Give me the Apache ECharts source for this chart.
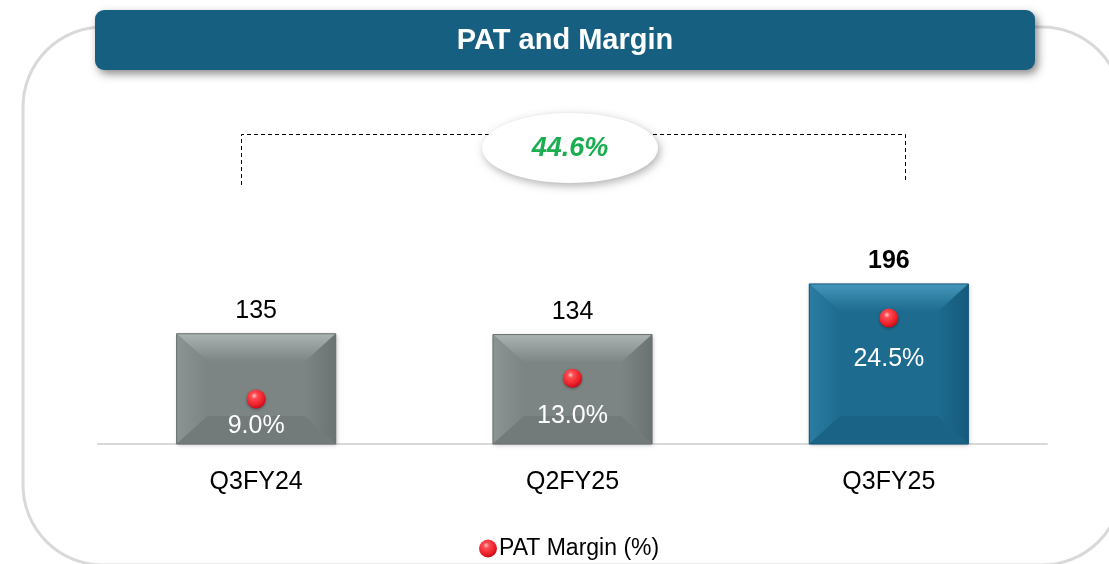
<!DOCTYPE html>
<html>
<head>
<meta charset="utf-8">
<script src="https://cdn.jsdelivr.net/npm/echarts@6/dist/echarts.min.js"></script>
<style>html,body{margin:0;padding:0;background:#fff;}#c{width:1109px;height:564px;}</style>
</head>
<body>
<div id="c"></div>
<script>
const categories = ['Q3FY24', 'Q2FY25', 'Q3FY25'];
const patValues = [135, 134, 196];
const marginValues = [9.0, 13.0, 24.5];
const growthLabel = '44.6%';
const titleText = 'PAT and Margin';
const legendName = 'PAT Margin (%)';

const chart = echarts.init(document.getElementById('c'), null, {renderer: 'canvas'});
const FONT = 'Liberation Sans, Arial, sans-serif';

const palettes = [
  {center: '#7c8484', top: '#abb2b2', left: '#8b9393', right: '#6b7272', bottom: '#737a7a', border: '#6a7070'},
  {center: '#7c8484', top: '#abb2b2', left: '#8b9393', right: '#6b7272', bottom: '#737a7a', border: '#6a7070'},
  {center: '#1d6b8f', top: '#4496ba', left: '#2b7ca2', right: '#165a7c', bottom: '#1b6386', border: '#175878'}
];
const labelGap = [5, 16, 19];
const boldIdx = patValues.length - 1;

const redSphere = new echarts.graphic.RadialGradient(0.4, 0.33, 0.75, [
  {offset: 0, color: '#ffc4c4'},
  {offset: 0.22, color: '#ff4a4f'},
  {offset: 0.7, color: '#e81c26'},
  {offset: 1, color: '#b00414'}
]);

function renderBar(params, api) {
  const idx = params.dataIndex;
  const top = api.coord([api.value(0), api.value(1)]);
  const base = api.coord([api.value(0), 0]);
  const w = api.size([1, 0])[0] * 0.503;
  const x0 = top[0] - w / 2, x1 = top[0] + w / 2;
  const y0 = top[1], y1 = base[1];
  const h = y1 - y0;
  const bx = Math.min(31, w * 0.2), by = Math.min(28, h * 0.26);
  const p = palettes[idx];
  const ix0 = x0 + bx, ix1 = x1 - bx, iy0 = y0 + by, iy1 = y1 - by;
  const poly = (pts, fill) => ({type: 'polygon', shape: {points: pts}, style: {fill: fill}});
  return {
    type: 'group',
    children: [
      {type: 'rect', shape: {x: x0, y: y0, width: w, height: h}, style: {fill: p.center, shadowBlur: 4, shadowOffsetX: 1, shadowOffsetY: 1, shadowColor: 'rgba(0,0,0,0.25)'}},
      poly([[x0, y0], [x1, y0], [ix1, iy0], [ix0, iy0]], new echarts.graphic.LinearGradient(0, 0, 0, 1, [{offset: 0, color: p.top}, {offset: 1, color: p.center}])),
      poly([[x0, y0], [ix0, iy0], [ix0, iy1], [x0, y1]], new echarts.graphic.LinearGradient(0, 0, 1, 0, [{offset: 0, color: p.left}, {offset: 1, color: p.center}])),
      poly([[x1, y0], [x1, y1], [ix1, iy1], [ix1, iy0]], new echarts.graphic.LinearGradient(0, 0, 1, 0, [{offset: 0, color: p.center}, {offset: 1, color: p.right}])),
      poly([[x0, y1], [ix0, iy1], [ix1, iy1], [x1, y1]], p.bottom),
      {type: 'rect', shape: {x: x0, y: y0, width: w, height: h}, style: {fill: 'none', stroke: p.border, lineWidth: 1}},
      {type: 'text', style: {x: top[0], y: y0 - 10, text: String(api.value(1)), fill: '#000', font: (idx === boldIdx ? 'bold ' : '') + '25px ' + FONT, align: 'center', verticalAlign: 'bottom'}}
    ]
  };
}

const option = {
  animation: false,
  backgroundColor: '#fff',
  grid: {left: 98, right: 62, top: 199, bottom: 120, containLabel: false},
  xAxis: {
    type: 'category', data: categories,
    axisLine: {lineStyle: {color: '#d9d9d9', width: 2}},
    axisTick: {show: false},
    axisLabel: {color: '#000', fontSize: 25, fontFamily: FONT, margin: 26}
  },
  yAxis: [
    {type: 'value', min: 0, max: 300, show: false, splitLine: {show: false}},
    {type: 'value', min: 0.4, max: 47.3, show: false, splitLine: {show: false}}
  ],
  legend: {
    data: [{name: legendName, icon: 'circle', itemStyle: {color: redSphere}}],
    left: 474, top: 532, itemWidth: 18, itemHeight: 18, itemGap: 4,
    textStyle: {color: '#000', fontSize: 23, fontFamily: FONT, padding: [0, 0, 0, -3]}
  },
  graphic: [
    {type: 'rect', z: -10, shape: {x: 23, y: 27, width: 1099, height: 538, r: 80}, style: {fill: 'none', stroke: '#d9d9d9', lineWidth: 3}},
    {type: 'rect', z: 10, shape: {x: 95, y: 10, width: 940, height: 60, r: 9}, style: {fill: '#175f80', shadowBlur: 8, shadowOffsetX: 3, shadowOffsetY: 4, shadowColor: 'rgba(0,0,0,0.45)'}},
    {type: 'text', z: 11, style: {x: 565, y: 41, text: titleText, fill: '#fff', font: 'bold 29px ' + FONT, align: 'center', verticalAlign: 'middle'}},
    {type: 'polyline', z: 5, shape: {points: [[241.5, 185], [241.5, 134.5], [905.5, 134.5], [905.5, 182]]}, style: {fill: 'none', stroke: '#000', lineWidth: 1, lineDash: [4, 3]}},
    {type: 'ellipse', z: 6, shape: {cx: 570, cy: 148, rx: 88, ry: 35}, style: {fill: '#fff', shadowBlur: 8, shadowOffsetX: 2, shadowOffsetY: 3, shadowColor: 'rgba(0,0,0,0.3)'}},
    {type: 'text', z: 7, style: {x: 570, y: 149, text: growthLabel, fill: '#1aae50', font: 'italic bold 27px ' + FONT, align: 'center', verticalAlign: 'middle'}}
  ],
  series: [
    {
      name: 'PAT', type: 'custom', renderItem: renderBar, yAxisIndex: 0,
      data: patValues.map((v, i) => [i, v]), z: 2
    },
    {
      name: legendName, type: 'scatter', yAxisIndex: 1, symbol: 'circle', symbolSize: 19, z: 5,
      itemStyle: {color: redSphere, opacity: 1, shadowBlur: 3, shadowOffsetY: 1, shadowColor: 'rgba(0,0,0,0.35)'},
      data: marginValues.map((v, i) => ({
        value: [i, v],
        label: {show: true, position: 'bottom', distance: labelGap[i], formatter: v.toFixed(1) + '%', color: '#fff', opacity: 1, fontSize: 25, fontFamily: FONT}
      }))
    }
  ]
};
chart.setOption(option);
</script>
</body>
</html>
